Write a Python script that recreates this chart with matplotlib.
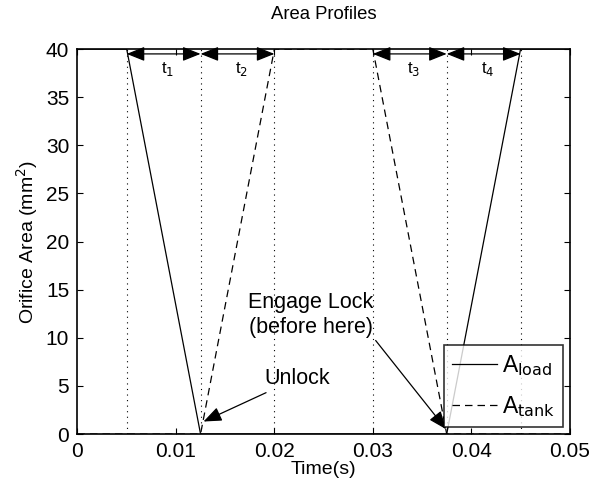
import matplotlib
matplotlib.use("Agg")
import matplotlib.pyplot as plt

plt.rcParams["font.family"] = ["Liberation Sans", "DejaVu Sans"]

# area profiles (s, mm^2)
t_load = [0, 0.005, 0.0125, 0.0375, 0.045, 0.05]
a_load = [40, 40, 0, 0, 40, 40]
t_tank = [0, 0.0125, 0.02, 0.03, 0.0375, 0.05]
a_tank = [0, 0, 40, 40, 0, 0]

# phase boundaries and interval labels
marks = [0.005, 0.0125, 0.02, 0.03, 0.0375, 0.045]
spans = [(0.005, 0.0125), (0.0125, 0.02), (0.03, 0.0375), (0.0375, 0.045)]
span_labels = ["t$_1$", "t$_2$", "t$_3$", "t$_4$"]

fig = plt.figure(figsize=(5.96, 4.91), dpi=100)
ax = fig.add_axes([0.130, 0.116, 0.826, 0.784])

ax.plot(t_load, a_load, color="black", lw=0.9, zorder=1, label="A$_{\\mathrm{load}}$")
ax.plot(t_tank, a_tank, color="black", lw=0.9, ls=(0, (6, 4)), zorder=1,
        label="A$_{\\mathrm{tank}}$")

for m in marks:
    ax.plot([m, m], [0, 40], color="black", lw=0.8, ls=(0, (1, 4)), zorder=1)

head = "<|-|>,head_length=0.55,head_width=0.22"
for (a, b), lab in zip(spans, span_labels):
    ax.annotate("", xy=(b, 39.5), xytext=(a, 39.5),
                arrowprops=dict(arrowstyle=head, color="black", lw=0.9,
                                mutation_scale=20, shrinkA=0, shrinkB=0))
    ax.text((a + b) / 2 + 0.0004, 37.9, lab, ha="center", va="center", fontsize=12)

one = "-|>,head_length=0.55,head_width=0.22"
ax.annotate("Unlock", xy=(0.0128, 1.3), xytext=(0.0190, 5.8), fontsize=15.5,
            ha="left", va="center",
            arrowprops=dict(arrowstyle=one, color="black", lw=0.9,
                            mutation_scale=20, shrinkA=2, shrinkB=0))
ax.annotate("Engage Lock\n(before here)", xy=(0.03744, 0.5), xytext=(0.0237, 12.4),
            fontsize=15.5, ha="center", va="center", linespacing=1.25,
            arrowprops=dict(arrowstyle=one, color="black", lw=0.9,
                            mutation_scale=20, shrinkA=0, shrinkB=0,
                            relpos=(1.0, 0.0)))

ax.set_xlim(0, 0.05)
ax.set_ylim(0, 40)
ax.set_xticks([0, 0.01, 0.02, 0.03, 0.04, 0.05])
ax.set_xticklabels(["0", "0.01", "0.02", "0.03", "0.04", "0.05"])
ax.set_yticks(range(0, 41, 5))
ax.tick_params(direction="in", top=True, right=True, labelsize=15, length=4, pad=6)
for s in ax.spines.values():
    s.set_linewidth(1.2)
    s.set_zorder(3)

ax.set_xlabel("Time(s)", fontsize=14, labelpad=0)
ax.set_ylabel("Orifice Area (mm$^2$)", fontsize=14, labelpad=4)
ax.set_title("Area Profiles", fontsize=13.3, pad=22)

leg = ax.legend(loc="lower right", fontsize=16.5, frameon=True, fancybox=False,
                edgecolor="black", handlelength=1.95, borderpad=0.35,
                labelspacing=0.7, handletextpad=0.22, borderaxespad=0.3)
leg.get_frame().set_linewidth(1.2)
leg.set_zorder(5)

fig.savefig("out.png", dpi=100)
